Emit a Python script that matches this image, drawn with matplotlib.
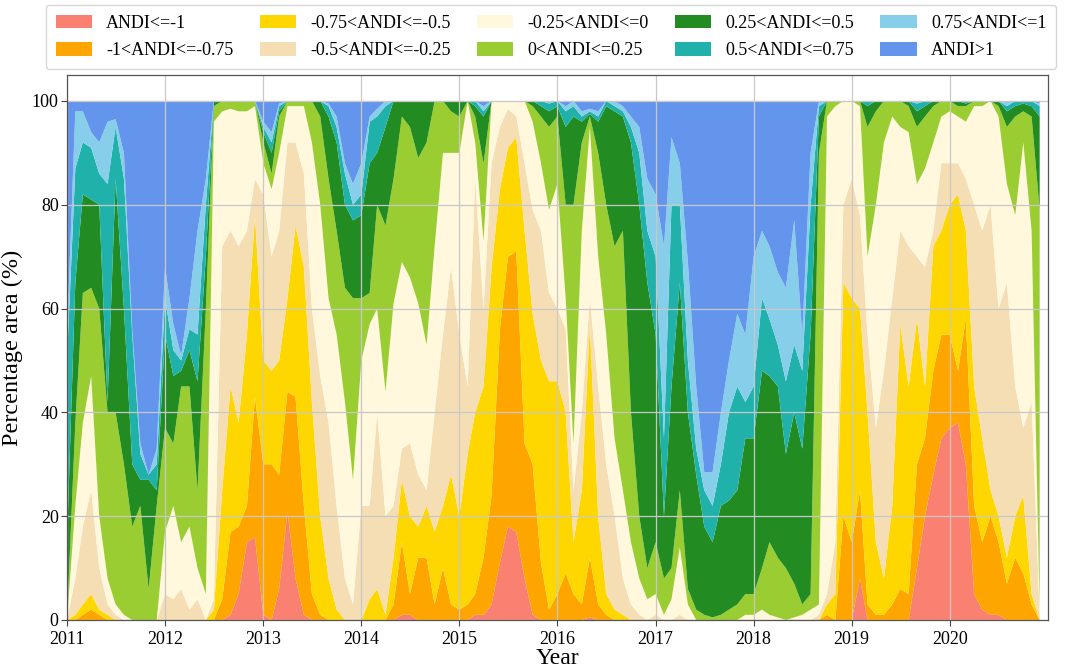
import numpy as np
import pandas as pd
import matplotlib
matplotlib.use("Agg")
import matplotlib.pyplot as plt
import matplotlib.dates as mdates
from matplotlib.patches import Patch

plt.rcParams['font.family'] = ['Liberation Serif', 'DejaVu Serif']

labels = ["ANDI<=-1", "-1<ANDI<=-0.75", "-0.75<ANDI<=-0.5", "-0.5<ANDI<=-0.25",
          "-0.25<ANDI<=0", "0<ANDI<=0.25", "0.25<ANDI<=0.5", "0.5<ANDI<=0.75",
          "0.75<ANDI<=1", "ANDI>1"]
colors = ["#FA8072", "#FFA500", "#FFD700", "#F5DEB3", "#FFF8DC",
          "#9ACD32", "#228B22", "#20B2AA", "#87CEEB", "#6495ED"]

months = pd.date_range("2011-01-01", periods=120, freq="MS")

# cumulative upper edges (%) of each class, monthly Jan 2011 - Dec 2020
top_le_m1 = [0,0,0,0,0,0,0,0,0,0,0,0,
             0,0,0,0,0,0,0,0,1,5,15,16,
             1,0,6,21,8,1,0,0,0,0,0,0,
             0,0,0,0,0,1,1,0,0,0,0,0,
             0,0,1,1,3,11,18,17,8,1,0,0,
             0,0,0,0,0.5,0,0,0,0,0,0,0,
             0,0,0,0,0,0,0,0,0,0,0,0,
             0,0,0,0,0,0,0,0,0,0,0,0,
             0,8,0,0,0,0,0,0,10,20,28,35,
             37,38,30,5,2,1,1,0,0,0,0,0]
top_m1_m075 = [0,0,1,2,1,0,0,0,0,0,0,0,
               0,0,0,0,0,0,0,4,17,18,22,43,
               30,30,28,44,43,22,5,1,0,0,0,0,
               0,0,0,0,3,15,5,12,12,3,10,3,
               2,3,5,12,24,56,70,71,34,30,11,2,
               5,9,5,3,12,3,1,0,0,0,0,0,
               0,0,0,0,0,0,0,0,0,0,0,0,
               0,0,0,0,0,0,0,0,0,1,0,20,
               15,25,3,1,1,3,6,5,30,35,48,55,
               55,48,58,22,15,20,15,7,12,9,3,0]
top_m075_m05 = [0,1,3,5,2,1,0,0,0,0,0,0,
                0,0,0,0,0,0,2,25,45,38,55,78,
                50,48,50,62,76,68,42,20,8,2,0,0,
                0,4,6,1,12,27,20,18,22,17,22,28,
                20,32,40,45,68,83,91,93,75,59,50,46,
                46,40,15,25,57,20,5,2,1,0,0,0,
                0,0,0,0,0,0,0,0,0,0,0,0,
                0,0,0,0,0,0,0,0,0,3,5,65,
                62,60,40,15,8,22,57,45,58,45,72,75,
                80,82,75,45,35,25,20,12,20,24,5,0]
top_m05_m025 = [0,8,18,25,10,3,1,0,0,0,0,0,
                5,4,6,2,4,0,4,72,75,72,75,85,
                82,70,75,92,92,86,60,47,38,22,8,3,
                22,22,40,20,22,33,34,28,25,40,55,68,
                55,45,85,60,88,95,98.5,97,88,79,75,63,
                60,56,25,40,62,45,30,20,8,3,1,0,
                1,0,0,1,0,0,0,0,0,0,0,0,
                0,0,0,0,0,0,0,0,1,5,15,80,
                85,78,55,37,48,62,75,72,70,68,75,88,
                88,88,85,80,75,80,60,65,45,37,42,1]
top_m025_0 = [0,22,38,47,20,8,3,1,0,0,0,0,
              17,22,15,18,10,5,96,98,98.5,98,98,99,
              88,83,90,99,99,99,92,80,62,55,42,27,
              50,57,60,44,61,69,66,61,53,72,90,90,
              90,100,92,73,100,100,100,100,100,96,88,79,
              84,62,34,75,95,70,55,35,25,15,8,4,
              5,1,4,14,3,0,0,0,0,0,0,1,
              1,2,1,0.5,0,0.5,1,2,3,97,99,100,
              100,99,70,80,92,97,95,94,84,87,92,97,
              98,97,96,99,99,100,97,84,78,92,75,2]
top_0_025 = [0,38,63,64,60,40,40,30,18,22,6,22,
             37,34,45,45,25,60,99,100,100,100,100,100,
             92,86,97,100,100,100,100,97,85,75,64,62,
             62,63,80,76,85,97,95,89,92,100,100,98,
             97,100,97,88,100,100,100,100,100,99,97,95,
             97,80,80,92,97,90,80,72,75,40,20,10,
             15,8,10,25,6,2,1,0.5,1,2,3,5,
             5,10,15,12,10,7,3,5,90,100,100,100,
             100,100,95,98,100,100,100,99,95,97,99,100,
             100,99,99,100,100,100,99,95,97,98,97,79]
top_025_05 = [15,65,82,81,80,42,85,60,30,27,27,25,
              55,47,48,52,46,70,100,100,100,100,100,100,
              94,90,98,100,100,100,100,100,97,92,80,77,
              78,88,90,95,100,100,100,100,100,100,100,100,
              100,100,99,97,100,100,100,100,100,100,99,98,
              99,95,97,96,97.5,96,99,98,97,92,80,65,
              55,20,45,65,40,28,18,15,22,23,25,35,
              35,48,47,45,32,40,33,55,97,100,100,100,
              100,100,99,100,100,100,100,100,98,99,100,100,
              100,100,99.5,100,100,100,100,98,99,99.5,99,97]
top_05_075 = [50,87,92,91,86,84,95,85,55,32,28,30,
              62,52,50,56,55,80,100,100,100,100,100,100,
              95,92,99,100,100,100,100,100,99,95,86,80,
              82,96,97,99,100,100,100,100,100,100,100,100,
              100,100,100,98,100,100,100,100,100,100,100,99.5,
              100,98,99,97,98,97,100,99,98,95,90,75,
              70,35,80,80,50,33,25,22,30,40,45,42,
              45,62,58,53,46,53,48,80,99,100,100,100,
              100,100,100,100,100,100,100,100,99.5,100,100,100,
              100,100,100,100,100,100,100,99,100,100,100,99]
top_075_1 = [55,98,98,94,92,96,96.5,90,56,34,28,33,
             68,57,51,62,75,85,100,100,100,100,100,100,
             96,94,99.5,100,100,100,100,100,99.5,97,88,84,
             88,97,98.5,100,100,100,100,100,100,100,100,100,
             100,100,100,99,100,100,100,100,100,100,100,100,
             100,99,100,98,98.5,98,100,100,99,97,95,85,
             82,72,93,88,69,45,28.5,28.5,40,50,59,55,
             70,75,72,67,64,77,55,90,100,100,100,100,
             100,100,100,100,100,100,100,100,100,100,100,100,
             100,100,100,100,100,100,100,100,100,100,100,99.5]
top_gt1 = [100] * 120

tops = [top_le_m1, top_m1_m075, top_m075_m05, top_m05_m025, top_m025_0,
        top_0_025, top_025_05, top_05_075, top_075_1, top_gt1]
tops = np.array(tops, dtype=float)
series = np.diff(np.vstack([np.zeros(120), tops]), axis=0)

fig = plt.figure(figsize=(10.69, 6.72), dpi=100)
ax = fig.add_axes([67/1069, 1-620/672, (1048-67)/1069, (620-75)/672])

ax.stackplot(months, series, colors=colors, linewidth=0)

ax.set_xlim(pd.Timestamp("2011-01-01"), pd.Timestamp("2021-01-01"))
ax.set_ylim(0, 105)
ax.set_yticks([0, 20, 40, 60, 80, 100])
ax.set_xticks([pd.Timestamp(f"{y}-01-01") for y in range(2011, 2021)])
ax.xaxis.set_major_formatter(mdates.DateFormatter("%Y"))
ax.grid(True, color="#c8c8c8", linewidth=0.9)
ax.tick_params(labelsize=13, length=4, color="#444444")
ax.tick_params(axis="x", pad=4)
ax.tick_params(axis="y", pad=2)
for s in ax.spines.values():
    s.set_color("#555555")
    s.set_linewidth(0.9)
ax.set_xlabel("Year", fontsize=17, labelpad=0)
ax.set_ylabel("Percentage area (%)", fontsize=17.5, labelpad=6)

handles = [Patch(facecolor=c, edgecolor="none") for c in colors]
fig.legend(handles, labels, ncol=5, loc="upper center", bbox_to_anchor=(0.5155, 0.993),
           borderaxespad=0, fontsize=13, frameon=True, fancybox=True, edgecolor="#cccccc",
           handlelength=2.0, handleheight=0.8, handletextpad=0.8, columnspacing=1.45,
           borderpad=0.55, labelspacing=0.55)

fig.savefig("out.png", dpi=100)
